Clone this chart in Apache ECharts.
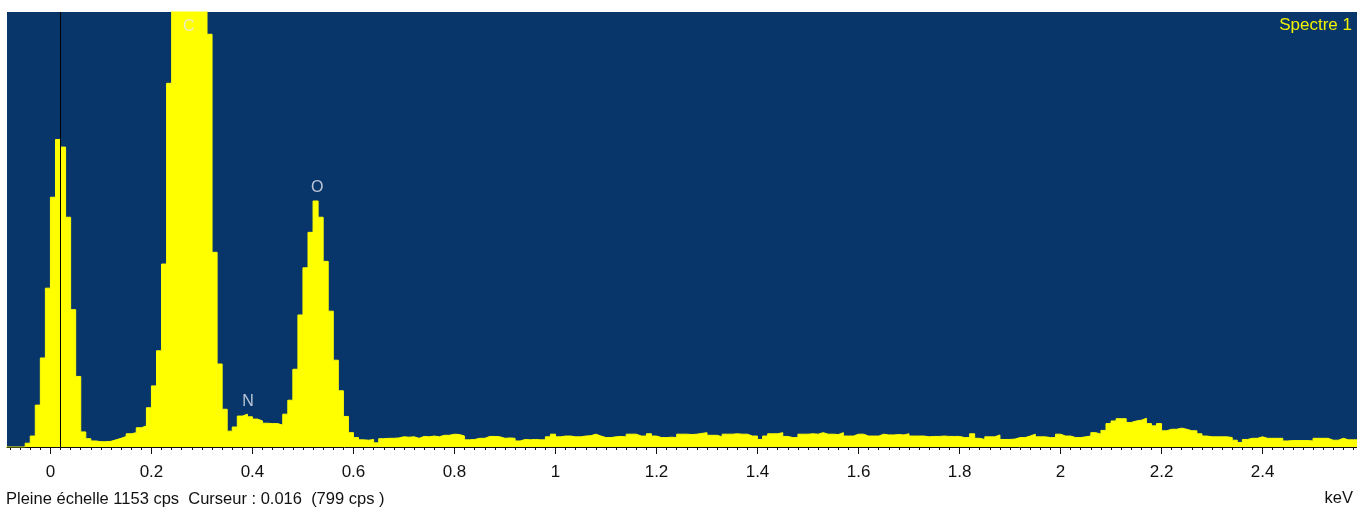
<!DOCTYPE html>
<html>
<head>
<meta charset="utf-8">
<script src="https://cdn.jsdelivr.net/npm/echarts@6/dist/echarts.min.js"></script>
<style>
html,body{margin:0;padding:0;background:#fff;}
#chart{width:1357px;height:508px;}
</style>
</head>
<body>
<div id="chart"></div>
<script>
// ---- data ----
const startKeV = -0.09;      // left edge of first channel
const channelKeV = 0.01;     // channel width
const counts = [
  0,0,0,0,10,29,111,236,421,662,
  815,795,609,364,187,40,22,16,14,14,
  15,19,23,28,35,38,51,56,104,162,
  255,485,964,1550,2050,2450,2600,2500,2150,1650,
  1094,516,220,100,42,53,82,87,80,74,
  69,63,62,62,58,87,124,206,350,475,
  569,652,609,492,360,230,149,81,38,25,
  19,18,20,11,22,23,23,24,27,26,
  27,23,28,27,29,27,31,31,34,33,
  29,19,20,23,23,28,28,27,23,24,
  23,16,20,19,20,19,19,27,34,27,
  29,29,27,27,29,30,34,29,25,25,
  27,28,27,34,34,29,29,35,29,25,
  25,26,25,34,34,33,34,36,38,31,
  31,27,34,34,35,34,34,29,29,20,
  29,35,35,38,28,25,25,34,34,35,
  34,38,34,34,33,38,29,29,34,34,
  29,29,29,34,32,32,33,32,35,29,
  29,29,27,28,28,29,28,28,28,25,
  25,35,23,20,27,27,32,20,20,21,
  25,25,29,34,27,27,25,25,34,29,
  29,25,25,27,29,38,34,44,62,69,
  75,75,65,69,71,76,62,56,62,43,
  47,47,50,47,43,43,35,29,27,27,
  27,27,25,18,12,20,23,23,27,23,
  23,23,23,16,17,17,17,17,16,23,
  23,23,18,18,23,19,19,19
];
const fullScaleCps = 1153;
const xMinKeV = -0.086;
const xMaxKeV = 2.587;
const majorTicks = [0,0.2,0.4,0.6,0.8,1,1.2,1.4,1.6,1.8,2,2.2,2.4];
const majorLabels = ['0','0.2','0.4','0.6','0.8','1','1.2','1.4','1.6','1.8','2','2.2','2.4'];
const minorTickStep = 0.02;
const peakNames = ['C','N','O'];
const peakKeV = [0.274, 0.391, 0.528];
const cursorKeV = 0.018;
const cursorText = '0.016';
const cursorCps = 799;
const spectrumName = 'Spectre 1';
const unitLabel = 'keV';

// ---- build ----
const stepData = counts.map((v, i) => [+(startKeV + i * channelKeV).toFixed(3), v]);
stepData.push([+(startKeV + counts.length * channelKeV).toFixed(3), counts[counts.length - 1]]);

const minorTicks = [];
for (let t = -0.08; t <= 2.5801; t += minorTickStep) minorTicks.push(+t.toFixed(2));

const labelData = peakNames.map((n, j) => {
  const k = Math.floor((peakKeV[j] - startKeV) / channelKeV);
  const local = Math.max(counts[k - 1], counts[k], counts[k + 1]);
  const clipped = local >= fullScaleCps;
  return {
    name: n,
    value: [peakKeV[j], Math.min(local, fullScaleCps)],
    label: { offset: [0, clipped ? 15 : -13] }
  };
});

const chart = echarts.init(document.getElementById('chart'), null, {renderer: 'canvas'});
chart.setOption({
  animation: false,
  backgroundColor: '#ffffff',
  grid: {
    left: 7, right: 0, top: 12, bottom: 61,
    show: true, backgroundColor: '#08356A', borderWidth: 0
  },
  xAxis: [
    {
      type: 'value', min: xMinKeV, max: xMaxKeV,
      axisLine: { show: true, onZero: false, lineStyle: { color: '#111', width: 1 } },
      axisTick: { show: true, customValues: majorTicks, length: 7, lineStyle: { color: '#111' } },
      axisLabel: {
        show: true, customValues: majorTicks, margin: 17,
        formatter: v => majorLabels[majorTicks.findIndex(t => Math.abs(t - v) < 1e-6)] || '',
        color: '#111', fontSize: 17, fontFamily: 'Liberation Sans, Arial'
      },
      splitLine: { show: false }
    },
    {
      type: 'value', min: xMinKeV, max: xMaxKeV, position: 'bottom',
      axisLine: { show: false, onZero: false },
      axisTick: { show: true, customValues: minorTicks, length: 3, lineStyle: { color: '#111' } },
      axisLabel: { show: false },
      splitLine: { show: false }
    }
  ],
  yAxis: {
    type: 'value', min: 0, max: fullScaleCps, show: false,
    splitLine: { show: false }
  },
  series: [
    {
      type: 'line', step: 'end', data: stepData, showSymbol: false, symbol: 'none',
      clip: true,
      lineStyle: { color: '#FFFF00', width: 1 },
      areaStyle: { color: '#FFFF00', opacity: 1 },
      markLine: {
        silent: true, symbol: 'none', animation: false,
        label: { show: false },
        lineStyle: { color: '#000000', width: 1, type: 'solid' },
        data: [{ xAxis: cursorKeV }]
      },
      z: 2
    },
    {
      type: 'scatter', data: labelData, symbolSize: 0, silent: true,
      label: {
        show: true, position: 'inside', formatter: p => p.name,
        color: '#E6E8F2', fontSize: 16, fontFamily: 'Liberation Sans, Arial'
      },
      z: 5
    }
  ],
  graphic: [
    {
      type: 'text', right: 5, top: 17,
      style: { text: spectrumName, fill: '#F2F200', font: '17px "Liberation Sans", Arial' }
    },
    {
      type: 'text', left: 6, top: 491,
      style: {
        text: 'Pleine échelle ' + fullScaleCps + ' cps  Curseur : ' + cursorText + '  (' + cursorCps + ' cps )',
        fill: '#111', font: '16.5px "Liberation Sans", Arial'
      }
    },
    {
      type: 'text', right: 4, top: 490,
      style: { text: unitLabel, fill: '#111', font: '16.5px "Liberation Sans", Arial' }
    }
  ]
});
</script>
</body>
</html>
